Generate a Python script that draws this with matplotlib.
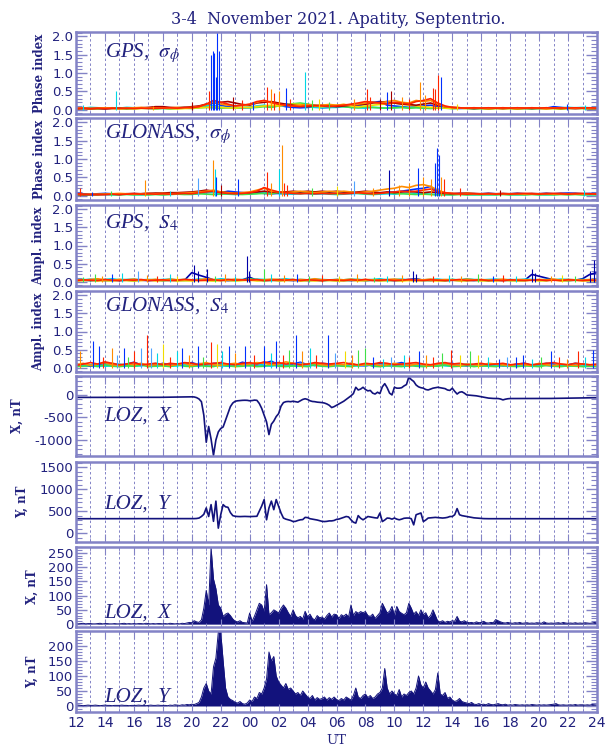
import numpy as np
import matplotlib.pyplot as plt
from matplotlib.ticker import MultipleLocator, FixedLocator, FormatStrFormatter

plt.rcParams['mathtext.fontset'] = 'stix'

# ---------------- data ----------------
# hour labels for the 36-hour UT axis (12 UT Nov 3 .. 24 UT Nov 4)
hour_ticks = list(range(12, 49, 2))
hour_labels = ['12', '14', '16', '18', '20', '22', '00', '02', '04', '06',
               '08', '10', '12', '14', '16', '18', '20', '22', '24']

# LOZ magnetometer, X component, nT, 10-min steps from 12 UT
loz_x = [
    -55, -55, -56, -55, -54, -55,  -55, -56, -55, -55, -56, -55,
    -54, -55, -55, -56, -55, -55,  -56, -55, -54, -55, -55, -56,
    -55, -55, -54, -54, -55, -55,  -54, -54, -53, -53, -54, -53,
    -52, -52, -51, -50, -50, -49,  -48, -47, -46, -45, -44, -43,
    -42, -45, -60, -90, -150, -450,  -1050, -700, -980, -1340, -1000, -820,
    -745, -710, -560, -414, -260, -180,  -140, -130, -125, -120, -118, -120,
    -130, -125, -115, -120, -190, -300,  -450, -600, -880, -650, -580, -480,
    -415, -250, -170, -150, -145, -150,  -140, -150, -160, -130, -100, -85,
    -100, -130, -145, -150, -160, -165,  -170, -180, -200, -230, -280, -260,
    -230, -200, -170, -140, -100, -60,  -20, 30, 170, 110, 130, 170,
    120, 90, 100, 40, 20, 60,  30, 180, 250, 160, 40, 0,
    170, 150, 150, 160, 200, 230,  400, 340, 300, 220, 180, 160,
    150, 120, 110, 130, 150, 160,  170, 160, 150, 140, 110, 100,
    150, 80, 20, 60, 70, 40,  0, -5, -10, -15, -20, -30,
    -40, -50, -60, -70, -75, -78,  -80, -80, -90, -110, -95, -85,
    -80, -80, -78, -80, -82, -80,  -80, -80, -80, -80, -80, -78,
    -78, -80, -80, -79, -78, -78,  -76, -76, -75, -74, -75, -74,
    -72, -72, -70, -70, -69, -68,  -67, -66, -65, -64, -63, -62,
    -62]

# LOZ magnetometer, Y component, nT
loz_y = [
    330, 331, 330, 329, 330, 331,  330, 330, 331, 330, 329, 330,
    331, 330, 330, 329, 330, 330,  330, 329, 330, 331, 330, 330,
    329, 330, 330, 331, 330, 329,  330, 330, 331, 330, 330, 329,
    328, 329, 330, 330, 331, 330,  330, 329, 328, 330, 330, 332,
    330, 332, 335, 345, 380, 430,  575, 380, 650, 270, 730, 115,
    420, 650, 600, 590, 470, 400,  385, 380, 378, 380, 382, 380,
    378, 380, 382, 385, 500, 620,  765, 305, 575, 730, 535, 765,
    610, 460, 345, 320, 305, 290,  265, 270, 290, 305, 310, 360,
    355, 330, 320, 310, 300, 285,  270, 265, 270, 280, 280, 290,
    315, 322, 340, 360, 380, 370,  305, 250, 230, 400, 340, 305,
    340, 380, 370, 360, 350, 345,  460, 265, 300, 345, 340, 320,
    345, 320, 305, 320, 340, 345,  345, 330, 190, 420, 440, 460,
    265, 300, 345, 350, 355, 360,  355, 350, 345, 350, 360, 380,
    380, 420, 560, 420, 400, 390,  380, 370, 360, 350, 345, 340,
    335, 332, 330, 330, 331, 330,  330, 331, 330, 329, 330, 331,
    330, 330, 329, 330, 331, 330,  330, 329, 330, 330, 331, 330,
    331, 330, 330, 329, 330, 330,  330, 331, 330, 330, 329, 330,
    330, 330, 331, 330, 330, 329,  330, 331, 330, 330, 331, 330,
    330]

# LOZ X fluctuation amplitude, nT
loz_dx = [
    2, 1, 2, 3, 1, 2,  2, 1, 1, 2, 3, 1,  2, 2, 1, 1, 2, 1,  1, 2, 3, 1, 2, 1,
    2, 1, 2, 2, 1, 3,  2, 1, 2, 1, 2, 2,  1, 2, 1, 3, 2, 1,  2, 1, 3, 2, 4, 6,
    5, 12, 8, 6, 15, 56,  118, 67, 267, 158, 124, 67,  56, 27, 35, 39, 30, 18,
    10, 8, 12, 6, 5, 4,  39, 10, 28, 50, 73, 67,  44, 138, 33, 40, 50, 45,
    39, 55, 67, 56, 40, 27,  50, 30, 22, 27, 18, 45,  25, 35, 20, 15, 30, 22,
    25, 18, 30, 39, 25, 35,  33, 20, 33, 28, 35, 25,  67, 30, 44, 38, 44, 40,
    44, 30, 27, 35, 20, 30,  40, 73, 56, 39, 45, 62,  30, 62, 44, 38, 33, 40,
    73, 56, 35, 44, 30, 50,  33, 40, 22, 30, 50, 30,  10, 8, 12, 6, 10, 8,
    12, 10, 27, 10, 8, 12,  7, 5, 6, 4, 8, 5,  6, 10, 5, 4, 6, 5,
    16, 12, 8, 5, 4, 6,  4, 3, 5, 4, 6, 3,  4, 5, 3, 4, 3, 5,
    4, 3, 8, 4, 3, 4,  3, 4, 5, 3, 6, 4,  3, 4, 3, 5, 3, 4,
    3, 5, 4, 3, 4, 6,  4]

# LOZ Y fluctuation amplitude, nT
loz_dy = [
    2, 3, 2, 1, 2, 3,  2, 2, 3, 2, 1, 2,  3, 2, 2, 1, 2, 2,  2, 3, 2, 2, 1, 2,
    2, 2, 3, 2, 2, 1,  2, 3, 2, 2, 3, 2,  2, 2, 1, 3, 2, 4,  3, 2, 4, 3, 5, 4,
    6, 5, 8, 12, 30, 60,  75, 50, 40, 130, 160, 246,  246, 150, 60, 30, 22, 18,
    12, 10, 15, 8, 6, 10,  20, 15, 30, 25, 45, 40,  60, 90, 180, 150, 165, 100,
    80, 70, 60, 75, 55, 60,  50, 40, 45, 35, 50, 40,  30, 25, 35, 20, 28, 22,
    25, 30, 20, 28, 22, 30,  22, 18, 25, 20, 30, 25,  20, 35, 60, 30, 25, 35,
    40, 28, 35, 25, 30, 40,  45, 60, 125, 60, 40, 50,  40, 35, 55, 30, 40, 35,
    45, 50, 40, 60, 100, 70,  60, 80, 60, 50, 40, 55,  110, 40, 35, 45, 25, 30,
    20, 15, 18, 25, 15, 12,  10, 8, 12, 6, 5, 8,  5, 6, 4, 8, 5, 4,
    6, 8, 5, 4, 6, 3,  4, 3, 5, 4, 3, 4,  3, 4, 3, 5, 4, 3,
    4, 3, 4, 3, 4, 5,  6, 8, 4, 3, 4, 3,  3, 4, 3, 5, 3, 4,
    4, 3, 4, 3, 5, 4,  3]

# scintillation indices, hundredths, 30-min steps, one list per satellite group
gps_ph_blue = [4, 3, 5, 4, 3, 4, 5, 4, 3, 4, 4, 3,
               4, 3, 4, 5, 4, 6, 10, 20, 12, 8, 6, 5,
               6, 8, 10, 8, 12, 8, 6, 5, 6, 8, 5, 6,
               8, 10, 12, 10, 15, 20, 22, 12, 10, 8, 6, 8,
               10, 12, 8, 5, 4, 3, 4, 3, 4, 3, 4, 3,
               4, 3, 3, 4, 3, 4, 8, 6, 4, 3, 4, 3, 3]
gps_ph_cyan = [5, 4, 6, 5, 4, 5, 4, 6, 5, 4, 5, 4,
               5, 4, 5, 6, 5, 8, 10, 12, 6, 5, 4, 5,
               6, 10, 12, 8, 10, 12, 14, 10, 8, 6, 5, 6,
               6, 8, 6, 5, 4, 6, 5, 4, 5, 6, 5, 6,
               5, 4, 5, 4, 3, 4, 5, 4, 3, 4, 5, 4,
               4, 5, 4, 3, 4, 5, 4, 5, 6, 5, 6, 5, 5]
gps_ph_green = [3, 4, 3, 2, 3, 4, 3, 2, 3, 4, 3, 2,
                3, 2, 3, 4, 3, 5, 6, 5, 4, 5, 4, 6,
                5, 6, 8, 6, 10, 14, 16, 18, 15, 12, 10, 12,
                10, 8, 6, 5, 8, 6, 5, 4, 5, 6, 4, 5,
                4, 3, 4, 5, 3, 4, 3, 2, 3, 2, 3, 4,
                3, 2, 3, 2, 3, 4, 3, 2, 3, 4, 3, 2, 3]
gps_ph_yellow = [2, 3, 2, 3, 4, 3, 2, 3, 2, 3, 4, 3,
                 4, 3, 2, 3, 4, 5, 6, 8, 6, 5, 4, 6,
                 6, 8, 10, 12, 10, 12, 15, 14, 12, 10, 8, 10,
                 12, 14, 10, 8, 10, 12, 14, 16, 18, 15, 12, 10,
                 8, 6, 5, 4, 3, 4, 3, 4, 3, 2, 3, 2,
                 3, 2, 3, 4, 3, 2, 3, 2, 3, 4, 3, 4, 3]
gps_ph_orange = [4, 5, 3, 4, 5, 4, 3, 4, 5, 6, 4, 5,
                 4, 5, 6, 5, 6, 8, 14, 20, 15, 12, 10, 12,
                 14, 20, 25, 18, 14, 12, 10, 12, 14, 10, 12, 14,
                 12, 14, 12, 15, 18, 20, 18, 22, 25, 20, 18, 25,
                 22, 25, 15, 8, 6, 5, 4, 5, 4, 3, 4, 5,
                 4, 3, 4, 5, 4, 3, 4, 5, 4, 3, 4, 3, 4]
gps_ph_red = [3, 4, 3, 4, 3, 4, 3, 4, 3, 4, 3, 4,
              4, 5, 4, 6, 5, 8, 15, 25, 20, 15, 10, 12,
              15, 22, 25, 20, 15, 12, 10, 8, 10, 12, 10, 8,
              10, 12, 15, 18, 22, 20, 18, 15, 20, 18, 15, 22,
              25, 30, 18, 10, 6, 5, 4, 5, 4, 5, 4, 5,
              4, 5, 4, 5, 4, 5, 4, 5, 4, 5, 4, 5, 4]
gps_ph_dred = [2, 3, 2, 3, 2, 3, 4, 3, 4, 5, 6, 8,
               8, 6, 5, 6, 8, 10, 15, 18, 20, 22, 18, 14,
               12, 18, 20, 22, 18, 15, 12, 10, 8, 10, 12, 10,
               8, 10, 12, 14, 15, 18, 20, 22, 18, 15, 14, 12,
               15, 18, 12, 8, 6, 5, 4, 3, 4, 3, 4, 3,
               4, 3, 4, 3, 4, 3, 4, 3, 4, 3, 4, 3, 3]
gps_ph_spikes = [(12.45, 0.12, 'c'), (14.73, 0.5, 'c'), (17.3, 0.1, 'o'), (20.0, 0.22, 'dr'),
                 (21.2, 0.5, 'r'), (21.35, 1.5, 'b'), (21.45, 1.6, 'b'), (21.55, 1.55, 'b'),
                 (21.65, 0.9, 'b'), (21.77, 2.12, 'b'), (21.85, 1.6, 'b'), (22.85, 0.35, 'dr'),
                 (23.5, 0.25, 'r'), (24.2, 0.2, 'b'), (25.2, 0.63, 'r'), (25.45, 0.55, 'o'),
                 (25.7, 0.45, 'r'), (26.0, 0.5, 'o'), (26.5, 0.6, 'b'), (26.8, 0.3, 'r'),
                 (27.8, 1.02, 'c'), (28.3, 0.25, 'g'), (28.8, 0.3, 'y'), (29.5, 0.2, 'g'),
                 (31.2, 0.3, 'o'), (32.1, 0.55, 'r'), (32.3, 0.35, 'r'), (33.0, 0.3, 'dr'),
                 (33.5, 0.48, 'b'), (33.8, 0.5, 'dr'), (34.5, 0.35, 'o'), (35.0, 0.3, 'r'),
                 (35.8, 0.75, 'o'), (36.1, 0.4, 'o'), (36.65, 0.6, 'r'), (36.8, 0.55, 'r'),
                 (37.0, 0.95, 'r'), (37.2, 0.9, 'b'), (38.3, 0.15, 'y'), (45.9, 0.15, 'b'),
                 (47.2, 0.12, 'c')]

gl_ph_blue = [6, 5, 4, 5, 6, 5, 4, 5, 4, 5, 6, 5,
              5, 4, 5, 6, 5, 6, 8, 10, 8, 12, 10, 8,
              6, 8, 6, 5, 6, 5, 6, 8, 6, 5, 6, 8,
              6, 8, 10, 8, 6, 5, 6, 8, 10, 12, 15, 18,
              20, 25, 10, 6, 5, 6, 5, 4, 5, 6, 5, 4,
              5, 6, 5, 4, 5, 6, 5, 6, 7, 6, 5, 6, 5]
gl_ph_cyan = [3, 2, 3, 4, 3, 2, 3, 4, 3, 2, 3, 4,
              3, 4, 5, 4, 3, 6, 10, 8, 5, 4, 3, 4,
              5, 6, 10, 8, 6, 5, 4, 5, 6, 4, 5, 4,
              3, 4, 5, 6, 4, 3, 4, 5, 4, 6, 8, 6,
              5, 4, 3, 2, 3, 4, 3, 2, 3, 2, 3, 4,
              3, 2, 3, 4, 3, 2, 3, 4, 5, 4, 3, 2, 3]
gl_ph_green = [2, 3, 2, 3, 4, 3, 2, 3, 2, 3, 2, 3,
               2, 3, 4, 3, 4, 5, 4, 3, 4, 5, 4, 3,
               4, 5, 6, 5, 8, 10, 8, 6, 8, 10, 8, 6,
               5, 6, 8, 6, 5, 4, 6, 8, 6, 5, 4, 3,
               4, 3, 2, 3, 2, 3, 2, 3, 2, 3, 2, 3,
               2, 3, 2, 3, 2, 3, 2, 3, 2, 3, 2, 3, 2]
gl_ph_orange = [4, 3, 4, 3, 4, 5, 6, 5, 4, 5, 6, 5,
                6, 5, 6, 7, 8, 10, 12, 15, 10, 8, 6, 8,
                10, 15, 20, 12, 10, 8, 10, 12, 10, 8, 10, 12,
                10, 12, 10, 8, 10, 12, 15, 18, 20, 25, 22, 28,
                30, 25, 15, 8, 6, 5, 6, 5, 4, 5, 4, 5,
                4, 5, 4, 5, 4, 5, 4, 5, 4, 5, 4, 5, 4]
gl_ph_red = [5, 4, 3, 4, 3, 4, 3, 4, 5, 4, 5, 4,
             5, 4, 5, 6, 5, 8, 10, 12, 8, 6, 5, 6,
             8, 12, 22, 15, 10, 8, 6, 5, 6, 5, 6, 5,
             6, 5, 6, 8, 6, 5, 6, 8, 10, 12, 10, 12,
             15, 18, 10, 8, 6, 5, 4, 5, 4, 5, 4, 5,
             4, 5, 6, 5, 4, 5, 6, 5, 4, 5, 6, 5, 4]
gl_ph_dred = [3, 2, 3, 2, 3, 4, 3, 5, 6, 5, 6, 7,
              7, 8, 8, 9, 10, 12, 15, 12, 10, 8, 7, 8,
              8, 10, 12, 10, 8, 10, 12, 10, 12, 10, 12, 10,
              12, 10, 8, 10, 12, 10, 8, 10, 8, 10, 12, 10,
              8, 10, 8, 6, 5, 6, 7, 6, 5, 6, 5, 6,
              5, 6, 5, 6, 5, 6, 5, 6, 5, 6, 5, 4, 5]
gl_ph_spikes = [(12.3, 0.2, 'r'), (13.1, 0.1, 'b'), (14.4, 0.12, 'g'), (16.8, 0.42, 'o'),
                (18.5, 0.12, 'c'), (20.4, 0.48, 'lb'), (21.45, 0.98, 'o'), (21.6, 0.73, 'c'),
                (21.7, 0.5, 'b'), (22.0, 0.3, 'dr'), (23.2, 0.45, 'b'), (25.2, 0.65, 'r'),
                (25.5, 0.35, 'o'), (26.06, 0.72, 'c'), (26.25, 1.38, 'o'), (26.4, 0.35, 'r'),
                (26.6, 0.3, 'r'), (28.3, 0.2, 'g'), (30.0, 0.25, 'y'), (31.2, 0.4, 'lb'),
                (32.5, 0.2, 'o'), (33.6, 0.7, 'db'), (34.3, 0.3, 'o'), (35.0, 0.35, 'o'),
                (35.6, 0.75, 'b'), (36.0, 0.5, 'o'), (36.5, 0.45, 'o'), (36.8, 0.9, 'b'),
                (36.93, 1.3, 'b'), (37.05, 1.1, 'b'), (37.2, 0.5, 'o'), (37.4, 0.45, 'r'),
                (38.5, 0.2, 'r'), (41.3, 0.15, 'dr'), (47.1, 0.15, 'c')]

gps_s4_dblue = [3, 4, 3, 4, 3, 4, 3, 4, 3, 4, 3, 4,
                3, 4, 3, 4, 25, 18, 12, 5, 4, 3, 4, 5,
                12, 4, 3, 4, 3, 4, 3, 4, 3, 4, 3, 4,
                3, 4, 3, 4, 3, 4, 3, 4, 3, 4, 6, 8,
                4, 3, 4, 3, 4, 3, 4, 3, 4, 3, 4, 3,
                4, 3, 4, 20, 15, 10, 5, 4, 3, 4, 8, 20, 25]
gps_s4_cyan = [6, 5, 7, 5, 6, 8, 5, 6, 7, 5, 6, 5,
               6, 7, 5, 6, 5, 7, 6, 5, 8, 6, 5, 6,
               5, 7, 6, 5, 6, 8, 5, 6, 5, 7, 6, 5,
               6, 5, 7, 6, 5, 6, 8, 5, 6, 7, 5, 6,
               5, 6, 7, 5, 6, 5, 8, 6, 5, 6, 7, 5,
               6, 5, 7, 6, 5, 6, 5, 7, 6, 5, 6, 5, 6]
gps_s4_green = [4, 6, 3, 5, 4, 3, 6, 4, 3, 5, 4, 6,
                3, 4, 5, 3, 4, 6, 4, 3, 5, 4, 3, 4,
                8, 5, 4, 3, 5, 4, 6, 3, 4, 5, 3, 4,
                5, 3, 4, 6, 3, 4, 5, 3, 4, 3, 5, 4,
                3, 4, 5, 3, 6, 4, 3, 5, 4, 3, 4, 5,
                3, 4, 3, 5, 4, 3, 6, 4, 3, 5, 4, 3, 4]
gps_s4_yellow = [2, 3, 4, 2, 3, 2, 4, 3, 2, 3, 5, 2,
                 3, 4, 2, 3, 2, 4, 3, 2, 3, 4, 2, 3,
                 4, 2, 3, 5, 2, 3, 4, 2, 3, 2, 4, 3,
                 2, 3, 4, 2, 3, 5, 2, 3, 4, 2, 3, 2,
                 4, 3, 2, 3, 4, 2, 3, 4, 2, 3, 2, 4,
                 3, 2, 3, 4, 2, 3, 5, 2, 3, 4, 2, 3, 2]
gps_s4_orange = [5, 4, 6, 8, 5, 4, 6, 5, 7, 4, 5, 6,
                 4, 7, 5, 6, 4, 5, 8, 6, 4, 5, 7, 5,
                 6, 4, 5, 7, 6, 5, 4, 6, 5, 8, 5, 4,
                 6, 5, 7, 4, 6, 5, 4, 6, 7, 5, 4, 6,
                 5, 7, 4, 6, 5, 4, 7, 5, 6, 4, 5, 7,
                 4, 6, 5, 4, 6, 5, 7, 4, 6, 5, 4, 6, 5]
gps_s4_red = [3, 5, 4, 3, 6, 4, 3, 5, 4, 6, 3, 4,
              5, 3, 4, 6, 5, 3, 4, 5, 3, 6, 4, 5,
              4, 6, 3, 4, 5, 4, 6, 3, 5, 4, 3, 5,
              4, 3, 5, 4, 6, 3, 4, 5, 3, 4, 6, 4,
              3, 5, 4, 3, 4, 6, 3, 4, 5, 3, 4, 3,
              5, 4, 3, 4, 5, 3, 4, 3, 5, 4, 3, 4, 3]
gps_s4_spikes = [(12.5, 0.12, 'g'), (13.3, 0.2, 'g'), (13.8, 0.15, 'o'), (14.5, 0.2, 'b'),
                 (15.2, 0.25, 'c'), (16.3, 0.3, 'lb'), (16.9, 0.18, 'o'), (17.6, 0.15, 'r'),
                 (18.5, 0.2, 'c'), (19.0, 0.15, 'y'), (20.16, 0.45, 'db'), (20.4, 0.3, 'db'),
                 (21.07, 0.35, 'db'), (21.6, 0.15, 'g'), (22.3, 0.2, 'o'), (23.0, 0.15, 'c'),
                 (23.8, 0.72, 'db'), (23.95, 0.3, 'db'), (25.0, 0.35, 'g'), (25.5, 0.2, 'c'),
                 (26.4, 0.18, 'o'), (27.3, 0.2, 'b'), (28.1, 0.15, 'g'), (29.0, 0.18, 'r'),
                 (30.2, 0.15, 'y'), (31.4, 0.2, 'o'), (32.6, 0.12, 'g'), (33.5, 0.15, 'c'),
                 (34.5, 0.18, 'o'), (35.3, 0.3, 'db'), (35.5, 0.2, 'db'), (36.7, 0.15, 'r'),
                 (37.8, 0.18, 'c'), (38.6, 0.15, 'o'), (39.8, 0.2, 'g'), (40.8, 0.15, 'b'),
                 (41.5, 0.18, 'r'), (42.4, 0.15, 'c'), (43.5, 0.35, 'db'), (43.7, 0.25, 'db'),
                 (44.8, 0.15, 'o'), (45.6, 0.18, 'y'), (46.5, 0.15, 'g'), (47.5, 0.3, 'db'),
                 (47.8, 0.6, 'db')]

gl_s4_blue = [10, 6, 4, 8, 12, 6, 5, 10, 15, 8, 5, 6,
              12, 8, 6, 10, 14, 8, 6, 12, 10, 6, 8, 15,
              10, 6, 12, 18, 8, 5, 10, 15, 8, 6, 12, 10,
              8, 5, 10, 6, 5, 8, 12, 6, 10, 14, 8, 6,
              5, 8, 6, 10, 12, 6, 5, 8, 10, 6, 8, 5,
              6, 10, 12, 6, 8, 12, 10, 6, 8, 12, 10, 6, 8]
gl_s4_lblue = [6, 10, 8, 5, 6, 12, 8, 5, 10, 6, 8, 12,
               6, 5, 10, 8, 6, 12, 8, 5, 6, 10, 8, 6,
               12, 8, 5, 6, 10, 8, 6, 12, 5, 8, 6, 10,
               6, 8, 12, 5, 6, 10, 8, 6, 5, 8, 10, 6,
               8, 6, 5, 8, 6, 10, 8, 5, 6, 8, 6, 10,
               8, 5, 6, 8, 10, 6, 5, 8, 6, 10, 8, 6, 5]
gl_s4_cyan = [4, 5, 8, 6, 4, 5, 10, 6, 4, 5, 8, 10,
              6, 4, 5, 8, 6, 4, 10, 8, 5, 4, 6, 8,
              5, 10, 6, 4, 8, 6, 5, 4, 10, 6, 4, 8,
              10, 6, 4, 5, 8, 6, 4, 10, 6, 5, 4, 8,
              6, 4, 8, 5, 4, 6, 10, 6, 4, 5, 8, 6,
              4, 5, 8, 6, 4, 10, 6, 5, 4, 6, 8, 5, 4]
gl_s4_green = [3, 4, 6, 3, 8, 4, 3, 5, 4, 8, 3, 4,
               5, 3, 8, 4, 3, 6, 4, 3, 8, 5, 3, 4,
               6, 3, 4, 8, 4, 3, 5, 4, 3, 8, 4, 3,
               5, 4, 3, 8, 10, 4, 3, 5, 4, 3, 6, 4,
               3, 5, 4, 8, 3, 4, 6, 3, 5, 4, 3, 6,
               4, 3, 5, 4, 3, 6, 4, 3, 5, 4, 3, 4, 3]
gl_s4_orange = [8, 12, 6, 10, 14, 8, 6, 10, 8, 12, 6, 8,
                10, 6, 8, 12, 6, 10, 14, 8, 6, 10, 12, 8,
                10, 14, 12, 8, 10, 16, 12, 8, 10, 12, 8, 6,
                10, 8, 12, 6, 8, 10, 6, 8, 12, 8, 6, 10,
                8, 6, 10, 12, 8, 6, 10, 8, 6, 12, 10, 8,
                6, 10, 8, 6, 12, 8, 6, 10, 8, 6, 10, 8, 6]
gl_s4_red = [6, 10, 14, 10, 16, 12, 8, 10, 14, 8, 10, 12,
             8, 12, 10, 14, 12, 8, 10, 12, 14, 10, 8, 12,
             14, 10, 16, 12, 14, 10, 12, 8, 10, 14, 12, 10,
             12, 14, 10, 8, 12, 10, 14, 12, 8, 10, 12, 14,
             10, 8, 12, 14, 10, 12, 8, 10, 12, 8, 10, 12,
             8, 10, 12, 8, 10, 12, 14, 10, 8, 12, 10, 8, 10]
gl_s4_spikes = [(12.3, 0.45, 'o'), (13.2, 0.75, 'b'), (13.6, 0.6, 'b'), (13.9, 0.3, 'r'),
                (14.5, 0.55, 'o'), (14.8, 0.35, 'lb'), (15.3, 0.55, 'b'), (15.6, 0.3, 'g'),
                (16.0, 0.45, 'r'), (16.5, 0.55, 'lb'), (16.9, 0.9, 'r'), (17.2, 0.55, 'lb'),
                (17.6, 0.4, 'c'), (18.0, 0.65, 'y'), (18.5, 0.3, 'r'), (19.0, 0.45, 'c'),
                (19.35, 0.55, 'b'), (19.8, 0.35, 'o'), (20.4, 0.6, 'b'), (20.8, 0.3, 'g'),
                (21.35, 0.7, 'r'), (21.77, 0.65, 'y'), (22.1, 0.45, 'c'), (22.6, 0.6, 'b'),
                (23.0, 0.4, 'o'), (23.7, 0.6, 'b'), (24.3, 0.35, 'r'), (25.0, 0.6, 'b'),
                (25.5, 0.4, 'c'), (25.85, 0.75, 'b'), (26.3, 0.35, 'r'), (26.7, 0.5, 'g'),
                (27.2, 0.9, 'b'), (27.6, 0.45, 'o'), (28.2, 0.55, 'c'), (28.6, 0.35, 'r'),
                (29.4, 0.9, 'b'), (29.9, 0.4, 'lb'), (30.6, 0.45, 'y'), (31.1, 0.35, 'o'),
                (31.5, 0.5, 'g'), (31.95, 0.55, 'g'), (32.5, 0.3, 'b'), (33.2, 0.25, 'c'),
                (33.8, 0.3, 'lb'), (34.65, 0.35, 'c'), (35.0, 0.3, 'r'), (35.7, 0.45, 'b'),
                (36.2, 0.35, 'o'), (36.7, 0.3, 'r'), (37.3, 0.4, 'g'), (37.9, 0.5, 'r'),
                (38.5, 0.35, 'y'), (39.2, 0.45, 'g'), (39.8, 0.35, 'y'), (40.5, 0.3, 'c'),
                (41.2, 0.25, 'b'), (41.8, 0.3, 'lb'), (42.4, 0.3, 'b'), (42.9, 0.35, 'b'),
                (43.5, 0.25, 'c'), (44.1, 0.3, 'g'), (44.8, 0.45, 'b'), (45.4, 0.3, 'r'),
                (45.9, 0.25, 'o'), (46.7, 0.45, 'r'), (47.2, 0.3, 'c'), (47.7, 0.5, 'b')]

# ---------------- style ----------------
FRAME = '#8383c6'
TXT = '#22227e'
NAVY = '#12127c'
COL = {'db': '#0000a8', 'b': '#0030ff', 'lb': '#4ea2ff', 'c': '#00d6e6', 'g': '#40e048',
       'y': '#f0dc00', 'o': '#ff8c00', 'r': '#ff2400', 'dr': '#a40000'}

t10 = 12 + np.arange(len(loz_x)) / 6.0
t30 = 12 + np.arange(len(gps_ph_blue)) / 2.0

W, H = 605, 747
fig = plt.figure(figsize=(W / 100, H / 100), dpi=100)

panels_px = [(32, 114), (118, 200), (205, 286), (291, 372),
             (376, 456), (462, 542), (547, 627), (631, 712)]
axes = []
for top, bot in panels_px:
    axes.append(fig.add_axes([76 / W, 1 - bot / H, 521 / W, (bot - top) / H]))


def style(ax, ylim, major, minor, fmt, ylabel, ylab_x, label, label_y):
    ax.set_xlim(12, 48)
    ax.set_ylim(*ylim)
    for s in ax.spines.values():
        s.set_color(FRAME)
        s.set_linewidth(1.8)
    ax.yaxis.set_major_locator(FixedLocator(major))
    ax.yaxis.set_minor_locator(MultipleLocator(minor))
    ax.yaxis.set_major_formatter(FormatStrFormatter(fmt))
    ax.tick_params(axis='y', which='both', direction='in', left=True, right=True,
                   color=FRAME, labelcolor=TXT, labelsize=9.5, pad=2)
    ax.tick_params(axis='y', which='major', length=8, width=1)
    ax.tick_params(axis='y', which='minor', length=4, width=0.8)
    ax.set_xticks(hour_ticks)
    ax.xaxis.set_minor_locator(MultipleLocator(1))
    ax.tick_params(axis='x', which='both', direction='in', top=True, bottom=True,
                   color=FRAME, labelbottom=False)
    ax.tick_params(axis='x', which='major', length=6)
    ax.tick_params(axis='x', which='minor', length=3)
    for h in range(13, 48):
        ax.axvline(h, color=FRAME, ls=(0, (2.5, 2.5)), lw=0.7, zorder=0)
    for lab in ax.get_yticklabels():
        lab.set_family('DejaVu Sans')
    ax.text(ylab_x, 0.5, ylabel, transform=ax.transAxes, rotation=90, ha='center',
            va='center', fontsize=8.5, fontweight='bold', family='DejaVu Serif', color=TXT)
    ax.text(0.055, label_y, label, transform=ax.transAxes, fontsize=15, style='italic',
            family='Liberation Serif', color=TXT, va='center')


def sat_panel(ax, series, spikes):
    for key, vals in series:
        ax.plot(t30, np.array(vals) / 100.0, color=COL[key], lw=1.2)
    for t, v, key in spikes:
        ax.vlines(t, 0.0, v, color=COL[key], lw=0.8)


sat_panel(axes[0], [('b', gps_ph_blue), ('c', gps_ph_cyan), ('g', gps_ph_green),
                    ('y', gps_ph_yellow), ('dr', gps_ph_dred), ('o', gps_ph_orange),
                    ('r', gps_ph_red)], gps_ph_spikes)
sat_panel(axes[1], [('b', gl_ph_blue), ('c', gl_ph_cyan), ('g', gl_ph_green),
                    ('dr', gl_ph_dred), ('o', gl_ph_orange), ('r', gl_ph_red)], gl_ph_spikes)
sat_panel(axes[2], [('db', gps_s4_dblue), ('c', gps_s4_cyan), ('g', gps_s4_green),
                    ('y', gps_s4_yellow), ('o', gps_s4_orange), ('r', gps_s4_red)], gps_s4_spikes)
sat_panel(axes[3], [('b', gl_s4_blue), ('lb', gl_s4_lblue), ('c', gl_s4_cyan),
                    ('g', gl_s4_green), ('o', gl_s4_orange), ('r', gl_s4_red)], gl_s4_spikes)

axes[4].plot(t10, loz_x, color=NAVY, lw=1.2)
axes[5].plot(t10, loz_y, color=NAVY, lw=1.2)
axes[6].fill_between(t10, 0, loz_dx, color=NAVY, lw=0)
axes[6].plot(t10, loz_dx, color=NAVY, lw=0.7)
axes[7].fill_between(t10, 0, loz_dy, color=NAVY, lw=0)
axes[7].plot(t10, loz_dy, color=NAVY, lw=0.7)

idx = [0, 0.5, 1.0, 1.5, 2.0]
sig = r'$\sigma_{\phi}$'
style(axes[0], (-0.12, 2.12), idx, 0.1, '%.1f', 'Phase index', -0.071, 'GPS,  ' + sig, 0.74)
style(axes[1], (-0.12, 2.12), idx, 0.1, '%.1f', 'Phase index', -0.071, 'GLONASS,  ' + sig, 0.8)
style(axes[2], (-0.12, 2.12), idx, 0.1, '%.1f', 'Ampl. index', -0.071, r'GPS,  $S_4$', 0.78)
style(axes[3], (-0.12, 2.12), idx, 0.1, '%.1f', 'Ampl. index', -0.071, r'GLONASS,  $S_4$', 0.82)
style(axes[4], (-1355, 420), [-1000, -500, 0], 100, '%d', 'X, nT', -0.113, 'LOZ,  X', 0.5)
style(axes[5], (-200, 1620), [0, 500, 1000, 1500], 100, '%d', 'Y, nT', -0.102, 'LOZ,  Y', 0.48)
style(axes[6], (-10, 270), [0, 50, 100, 150, 200, 250], 10, '%d', 'X, nT', -0.083, 'LOZ,  X', 0.17)
style(axes[7], (-20, 250), [0, 50, 100, 150, 200], 10, '%d', 'Y, nT', -0.083, 'LOZ,  Y', 0.18)

axes[7].set_xticklabels(hour_labels)
axes[7].tick_params(axis='x', labelbottom=True, labelcolor=TXT, labelsize=10, pad=3)

fig.text(338 / W, 1 - 20 / H, '3-4  November 2021. Apatity, Septentrio.', ha='center',
         va='center', fontsize=11.5, family='DejaVu Serif', color=TXT)
fig.text(336 / W, 1 - 740 / H, 'UT', ha='center', va='center', fontsize=9.5,
         family='DejaVu Serif', color=TXT)

fig.savefig('out.png', dpi=100)
